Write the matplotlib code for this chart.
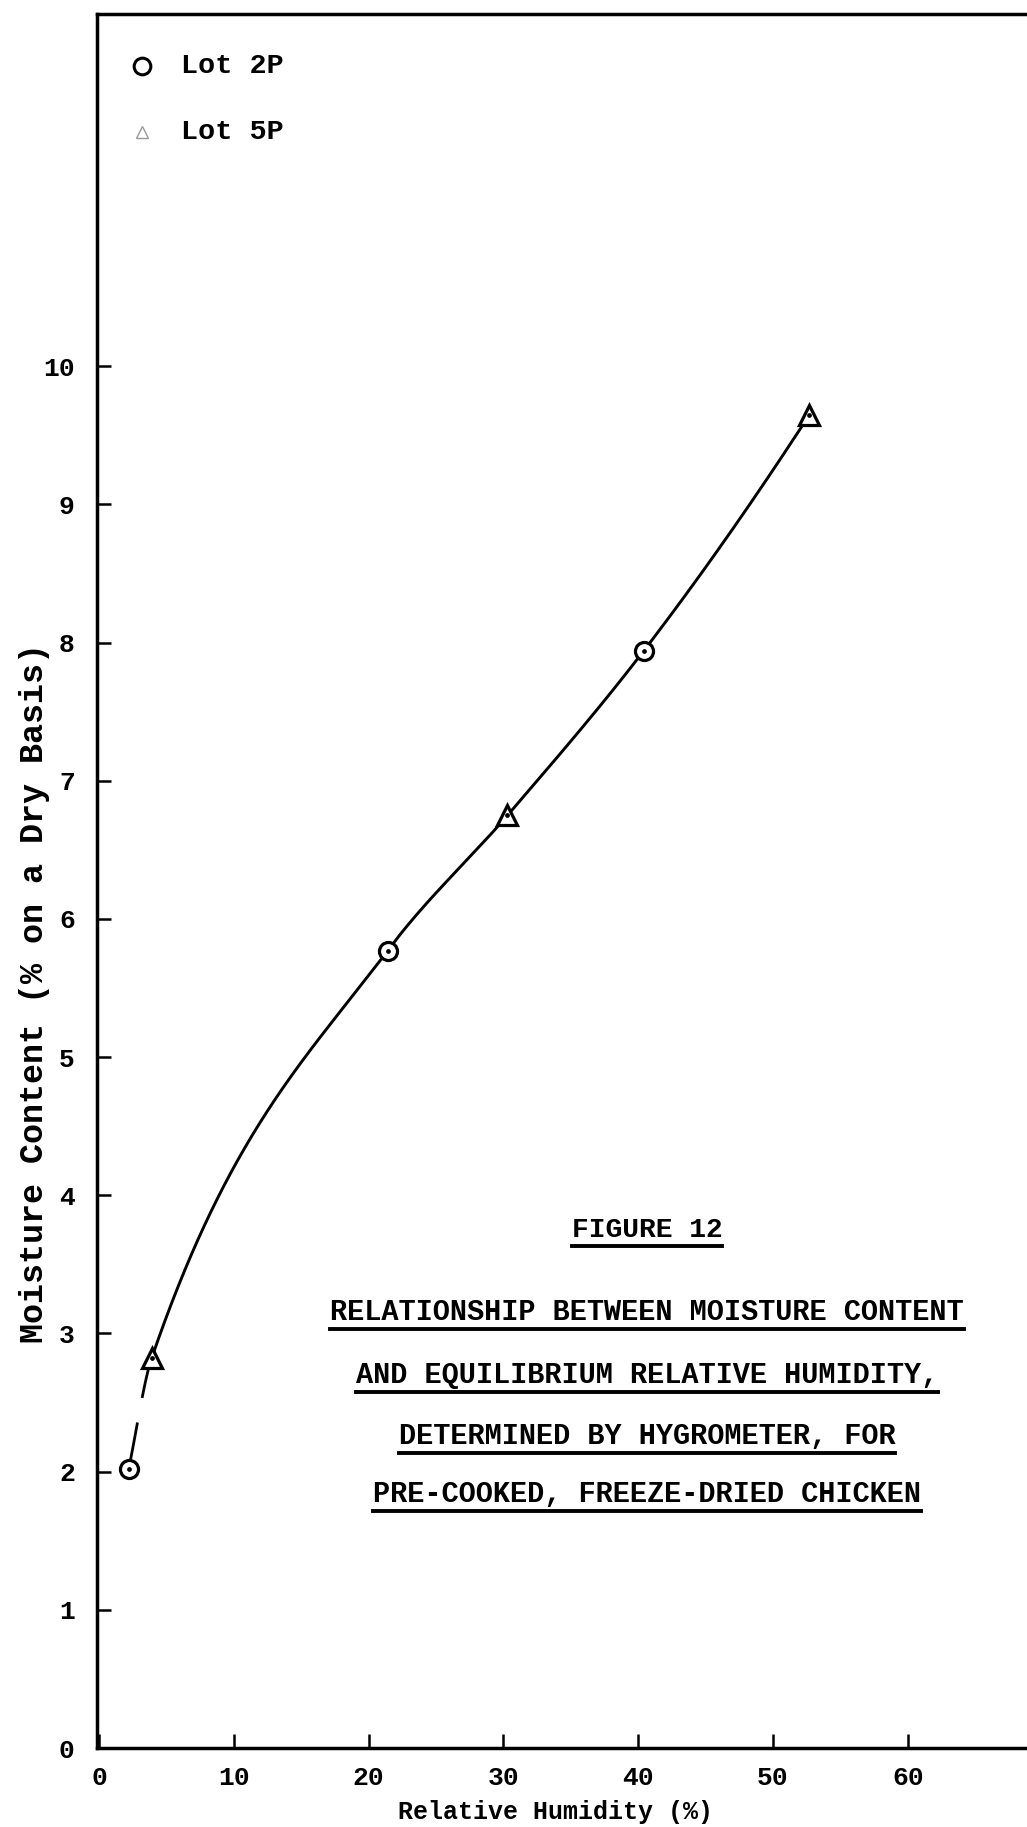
import numpy as np
import matplotlib
matplotlib.use("Agg")
import matplotlib.pyplot as plt
from matplotlib.lines import Line2D

# ---- data ----
lot2p_rh = [2.2, 21.4, 40.4]
lot2p_mc = [2.02, 5.77, 7.94]
lot5p_rh = [3.9, 30.3, 52.7]
lot5p_mc = [2.82, 6.75, 9.65]
x_ticks = [0, 10, 20, 30, 40, 50, 60]
y_ticks = [0, 1, 2, 3, 4, 5, 6, 7, 8, 9, 10]
legend_labels = ["Lot 2P", "Lot 5P"]
caption_title = "FIGURE 12"
caption_lines = [
    "RELATIONSHIP BETWEEN MOISTURE CONTENT",
    "AND EQUILIBRIUM RELATIVE HUMIDITY,",
    "DETERMINED BY HYGROMETER, FOR",
    "PRE-COOKED, FREEZE-DRIED CHICKEN",
]
xlabel = "Relative Humidity (%)"
ylabel = "Moisture Content (% on a Dry Basis)"

FONT = "Liberation Mono"
plt.rcParams["font.family"] = [FONT, "DejaVu Sans Mono"]
plt.rcParams["font.weight"] = "bold"


def pchip(x, y, xs):
    x = np.asarray(x, float)
    y = np.asarray(y, float)
    h = np.diff(x)
    d = np.diff(y) / h
    n = len(x)
    m = np.zeros(n)
    for k in range(1, n - 1):
        if d[k - 1] * d[k] <= 0:
            m[k] = 0
        else:
            w1 = 2 * h[k] + h[k - 1]
            w2 = h[k] + 2 * h[k - 1]
            m[k] = (w1 + w2) / (w1 / d[k - 1] + w2 / d[k])
    m[0] = d[0]
    m[-1] = ((2 * h[-1] + h[-2]) * d[-1] - h[-1] * d[-2]) / (h[-1] + h[-2])
    out = np.empty_like(xs)
    idx = np.clip(np.searchsorted(x, xs) - 1, 0, n - 2)
    for i, xv in enumerate(xs):
        k = idx[i]
        t = (xv - x[k]) / h[k]
        h00 = 2 * t**3 - 3 * t**2 + 1
        h10 = t**3 - 2 * t**2 + t
        h01 = -2 * t**3 + 3 * t**2
        h11 = t**3 - t**2
        out[i] = h00 * y[k] + h10 * h[k] * m[k] + h01 * y[k + 1] + h11 * h[k] * m[k + 1]
    return out


W, H = 1027, 1827
fig = plt.figure(figsize=(W / 100, H / 100), dpi=100)
fig.patch.set_facecolor("white")

left_px, top_px, bottom_px = 97, 14, 1748
ax = fig.add_axes([left_px / W, 1 - bottom_px / H, 1 - left_px / W + 0.01, (bottom_px - top_px) / H])
ax.set_xlim(-0.15, 69.6)
ax.set_ylim(0, 12.55)

# combined curve
all_x = np.array(lot2p_rh + lot5p_rh)
all_y = np.array(lot2p_mc + lot5p_mc)
order = np.argsort(all_x)
cx, cy = all_x[order], all_y[order]

xs1 = np.linspace(cx[0], cx[1], 50)
ax.plot(xs1, pchip(cx, cy, xs1), color="black", lw=2.0,
        linestyle=(0, (17, 9, 40, 1)), solid_capstyle="butt", zorder=2)
xs2 = np.linspace(cx[1], cx[-1], 600)
ax.plot(xs2, pchip(cx, cy, xs2), color="black", lw=2.1, zorder=2)

ax.plot(lot2p_rh, lot2p_mc, linestyle="none", marker="o", markersize=13,
        markerfacecolor="white", markeredgecolor="black", markeredgewidth=2.3, zorder=3)
ax.plot(lot5p_rh, lot5p_mc, linestyle="none", marker="^", markersize=14,
        markerfacecolor="white", markeredgecolor="black", markeredgewidth=2.3, zorder=3)
ax.plot(lot2p_rh + lot5p_rh, lot2p_mc + lot5p_mc, linestyle="none", marker="o",
        markersize=2.4, color="black", zorder=4)

ax.set_xticks(x_ticks)
ax.set_xticklabels([str(v) for v in x_ticks])
ax.set_yticks(y_ticks)
ax.set_yticklabels([str(v) for v in y_ticks])
ax.tick_params(axis="both", direction="in", length=10, width=1.8, labelsize=19, colors="black")
ax.tick_params(axis="x", pad=13)
ax.tick_params(axis="y", pad=16)
for lab in ax.get_xticklabels() + ax.get_yticklabels():
    lab.set_fontweight("bold")

for s in ["left", "bottom", "top"]:
    ax.spines[s].set_linewidth(2.5)
    ax.spines[s].set_color("black")
ax.spines["right"].set_visible(False)

# legend (drawn manually to match placement)
lx, ly1, ly2 = 142 / W, 1 - 66 / H, 1 - 132 / H
fig.add_artist(Line2D([lx], [ly1], marker="o", markersize=12, markerfacecolor="white",
                      markeredgecolor="black", markeredgewidth=2.2, transform=fig.transFigure))
fig.add_artist(Line2D([lx], [ly2], marker="^", markersize=9, markerfacecolor="white",
                      markeredgecolor="#9a9a9a", markeredgewidth=1.0, transform=fig.transFigure))
fig.text(181 / W, ly1, legend_labels[0], fontsize=20.5, fontweight="bold", va="center", ha="left")
fig.text(181 / W, ly2, legend_labels[1], fontsize=20.5, fontweight="bold", va="center", ha="left")

# axis labels
fig.text(35 / W, 1 - 993 / H, ylabel, rotation=90, fontsize=24, fontweight="bold",
         ha="center", va="center")
fig.text(556 / W, 1 - 1812 / H, xlabel, fontsize=18, fontweight="bold",
         ha="center", va="center")

# caption with underlines
cap_x = 647 / W
texts = []
t = fig.text(cap_x, 1 - 1230 / H, caption_title, fontsize=20.2, fontweight="bold",
             ha="center", va="center")
texts.append(t)
for yy, line in zip([1312, 1375, 1436, 1494], caption_lines):
    texts.append(fig.text(cap_x, 1 - yy / H, line, fontsize=20.6, fontweight="bold",
                          ha="center", va="center"))

fig.canvas.draw()
r = fig.canvas.get_renderer()
for t in texts:
    bb = t.get_window_extent(renderer=r)
    y_line = (bb.y0 - 3) / H
    fig.add_artist(Line2D([bb.x0 / W, bb.x1 / W], [y_line, y_line], color="black",
                          lw=2.8, transform=fig.transFigure))

fig.savefig("out.png", dpi=100, facecolor="white")
